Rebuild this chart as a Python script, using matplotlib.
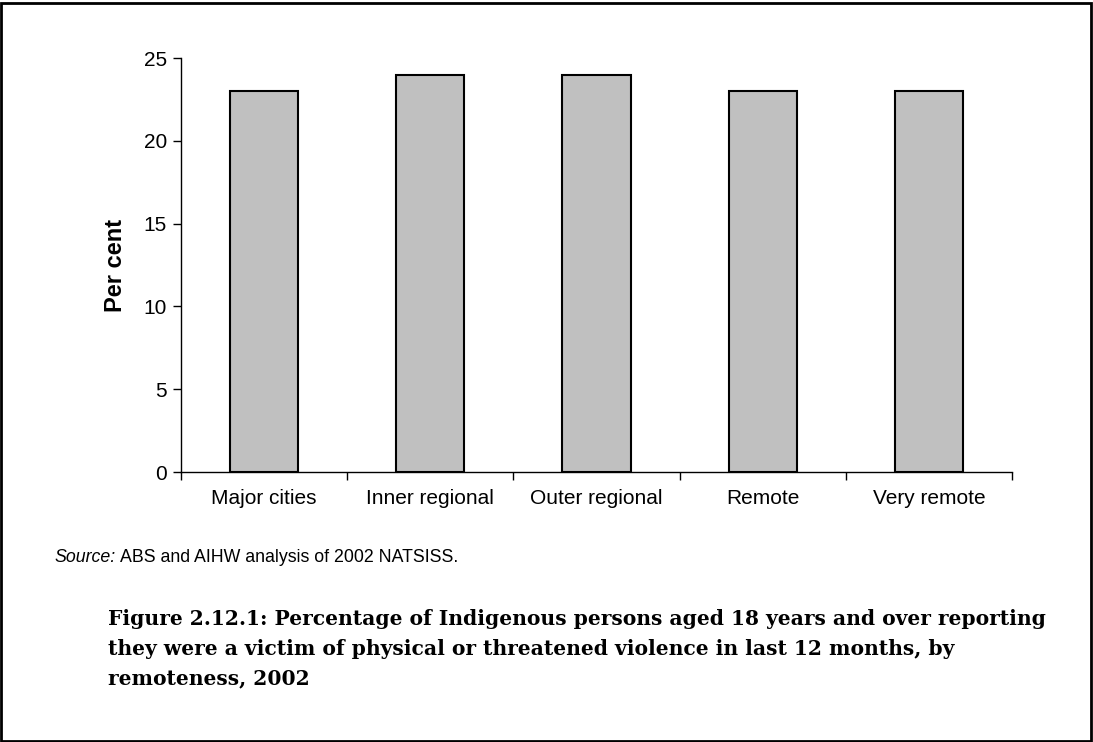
import matplotlib
matplotlib.use("Agg")
import matplotlib.pyplot as plt
from matplotlib.patches import Rectangle

categories = ["Major cities", "Inner regional", "Outer regional", "Remote", "Very remote"]
values = [23, 24, 24, 23, 23]
yticks = [0, 5, 10, 15, 20, 25]

W, H = 1093, 742
fig = plt.figure(figsize=(W / 100, H / 100), dpi=100)
plt.rcParams['font.family'] = ['Liberation Sans', 'DejaVu Sans']

ax = fig.add_axes([181 / W, 1 - 472 / H, (1012 - 181) / W, (472 - 58) / H])
x = list(range(len(categories)))
ax.bar(x, values, width=0.41, color="#c0c0c0", edgecolor="black", linewidth=1.5, zorder=3)
ax.set_xlim(-0.5, len(categories) - 0.5)
ax.set_ylim(0, 25)
ax.set_yticks(yticks)
ax.set_yticklabels([str(v) for v in yticks], fontsize=15)
ax.set_xticks(x)
ax.set_xticklabels(categories, fontsize=15)
ax.tick_params(axis='x', length=0, pad=12)
ax.set_xticks([i - 0.5 for i in range(len(categories) + 1)], minor=True)
ax.tick_params(axis='x', which='minor', length=6, width=1, direction='out')
ax.tick_params(axis='y', length=6, width=1, direction='out', pad=4)
for s in ['top', 'right']:
    ax.spines[s].set_visible(False)
ax.spines['left'].set_linewidth(1)
ax.spines['bottom'].set_linewidth(1)
ax.set_ylabel("Per cent", fontsize=17, fontweight='bold', labelpad=12)

src = fig.text(55 / W, 1 - 557 / H, "Source:", fontsize=12.8, va='center', ha='left', style='italic')
ax.annotate("ABS and AIHW analysis of 2002 NATSISS.", xy=(1, 0.5), xycoords=src,
            xytext=(4, 0), textcoords='offset pixels', fontsize=12.8, va='center', ha='left',
            annotation_clip=False)

caption = ("Figure 2.12.1: Percentage of Indigenous persons aged 18 years and over reporting\n"
           "they were a victim of physical or threatened violence in last 12 months, by\n"
           "remoteness, 2002")
fig.text(108 / W, 1 - 609 / H, caption, fontsize=14.6, fontweight='bold', va='top', ha='left',
         family=['DejaVu Serif'], linespacing=1.62)

fig.patches.append(Rectangle((1 / W, 1 / H), (W - 3) / W, (H - 4) / H, transform=fig.transFigure,
                             fill=False, edgecolor='black', linewidth=2))

fig.savefig("out.png", dpi=100)
